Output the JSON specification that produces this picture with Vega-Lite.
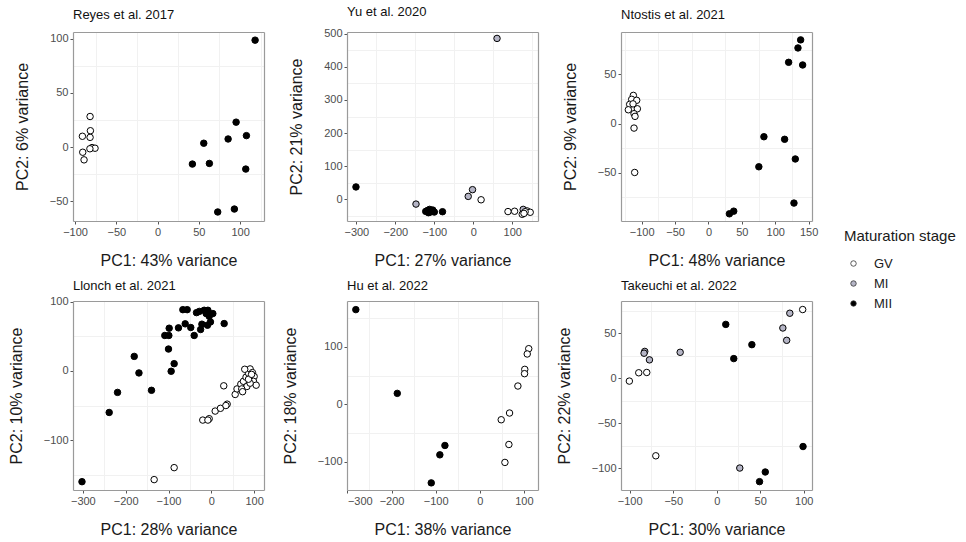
{
  "$schema": "https://vega.github.io/schema/vega-lite/v6.json",
  "padding": {"left": 8, "top": 5, "right": 0, "bottom": 0},
  "background": "white",
  "bounds": "flush",
  "columns": 3,
  "spacing": {"row": 80, "column": 83},
  "datasets": {
    "pca": [
      {"study": "Reyes et al. 2017", "stage": "GV", "pc1": -81.8, "pc2": 28.2},
      {"study": "Reyes et al. 2017", "stage": "GV", "pc1": -81.4, "pc2": 15.1},
      {"study": "Reyes et al. 2017", "stage": "GV", "pc1": -81.8, "pc2": 9},
      {"study": "Reyes et al. 2017", "stage": "GV", "pc1": -91.1, "pc2": 10},
      {"study": "Reyes et al. 2017", "stage": "GV", "pc1": -90.7, "pc2": -4.7},
      {"study": "Reyes et al. 2017", "stage": "GV", "pc1": -89.1, "pc2": -11.7},
      {"study": "Reyes et al. 2017", "stage": "GV", "pc1": -79.4, "pc2": -0.4},
      {"study": "Reyes et al. 2017", "stage": "GV", "pc1": -75.8, "pc2": -1},
      {"study": "Reyes et al. 2017", "stage": "GV", "pc1": -82, "pc2": -1.5},
      {"study": "Reyes et al. 2017", "stage": "MII", "pc1": 118.2, "pc2": 98.5},
      {"study": "Reyes et al. 2017", "stage": "MII", "pc1": 95.2, "pc2": 23},
      {"study": "Reyes et al. 2017", "stage": "MII", "pc1": 85.5, "pc2": 7.5},
      {"study": "Reyes et al. 2017", "stage": "MII", "pc1": 107.7, "pc2": 10.6},
      {"study": "Reyes et al. 2017", "stage": "MII", "pc1": 56, "pc2": 3.6},
      {"study": "Reyes et al. 2017", "stage": "MII", "pc1": 42.2, "pc2": -15.6},
      {"study": "Reyes et al. 2017", "stage": "MII", "pc1": 62.8, "pc2": -15},
      {"study": "Reyes et al. 2017", "stage": "MII", "pc1": 106.9, "pc2": -20.2},
      {"study": "Reyes et al. 2017", "stage": "MII", "pc1": 72.9, "pc2": -59.7},
      {"study": "Reyes et al. 2017", "stage": "MII", "pc1": 93.1, "pc2": -57},

      {"study": "Yu et al. 2020", "stage": "MII", "pc1": -301, "pc2": 37.7},
      {"study": "Yu et al. 2020", "stage": "MII", "pc1": -122, "pc2": -36},
      {"study": "Yu et al. 2020", "stage": "MII", "pc1": -117, "pc2": -33},
      {"study": "Yu et al. 2020", "stage": "MII", "pc1": -112, "pc2": -30},
      {"study": "Yu et al. 2020", "stage": "MII", "pc1": -108, "pc2": -36},
      {"study": "Yu et al. 2020", "stage": "MII", "pc1": -104, "pc2": -32},
      {"study": "Yu et al. 2020", "stage": "MII", "pc1": -100, "pc2": -38},
      {"study": "Yu et al. 2020", "stage": "MII", "pc1": -115, "pc2": -40},
      {"study": "Yu et al. 2020", "stage": "MII", "pc1": -110, "pc2": -38},
      {"study": "Yu et al. 2020", "stage": "MII", "pc1": -79, "pc2": -37},
      {"study": "Yu et al. 2020", "stage": "MI", "pc1": 60.9, "pc2": 485.7},
      {"study": "Yu et al. 2020", "stage": "MI", "pc1": -147, "pc2": -14},
      {"study": "Yu et al. 2020", "stage": "MI", "pc1": -13, "pc2": 9.2},
      {"study": "Yu et al. 2020", "stage": "MI", "pc1": -2, "pc2": 29.5},
      {"study": "Yu et al. 2020", "stage": "MI", "pc1": 128, "pc2": -30},
      {"study": "Yu et al. 2020", "stage": "GV", "pc1": 20, "pc2": -1},
      {"study": "Yu et al. 2020", "stage": "GV", "pc1": 89, "pc2": -36.6},
      {"study": "Yu et al. 2020", "stage": "GV", "pc1": 106, "pc2": -35.6},
      {"study": "Yu et al. 2020", "stage": "GV", "pc1": 125.5, "pc2": -44.8},
      {"study": "Yu et al. 2020", "stage": "GV", "pc1": 138, "pc2": -34.6},
      {"study": "Yu et al. 2020", "stage": "GV", "pc1": 146, "pc2": -38.7},
      {"study": "Yu et al. 2020", "stage": "GV", "pc1": 133, "pc2": -37},
      {"study": "Yu et al. 2020", "stage": "GV", "pc1": 130, "pc2": -42},

      {"study": "Ntostis et al. 2021", "stage": "GV", "pc1": -112.5, "pc2": 28.6},
      {"study": "Ntostis et al. 2021", "stage": "GV", "pc1": -115, "pc2": 24.6},
      {"study": "Ntostis et al. 2021", "stage": "GV", "pc1": -107.5, "pc2": 23.6},
      {"study": "Ntostis et al. 2021", "stage": "GV", "pc1": -118, "pc2": 19.5},
      {"study": "Ntostis et al. 2021", "stage": "GV", "pc1": -120, "pc2": 14},
      {"study": "Ntostis et al. 2021", "stage": "GV", "pc1": -106.5, "pc2": 15},
      {"study": "Ntostis et al. 2021", "stage": "GV", "pc1": -111.5, "pc2": 10},
      {"study": "Ntostis et al. 2021", "stage": "GV", "pc1": -110, "pc2": 7.3},
      {"study": "Ntostis et al. 2021", "stage": "GV", "pc1": -111.5, "pc2": -4.6},
      {"study": "Ntostis et al. 2021", "stage": "GV", "pc1": -110.5, "pc2": -49.7},
      {"study": "Ntostis et al. 2021", "stage": "GV", "pc1": -113, "pc2": 20},
      {"study": "Ntostis et al. 2021", "stage": "MII", "pc1": 138, "pc2": 85},
      {"study": "Ntostis et al. 2021", "stage": "MII", "pc1": 134, "pc2": 76.8},
      {"study": "Ntostis et al. 2021", "stage": "MII", "pc1": 120, "pc2": 62.2},
      {"study": "Ntostis et al. 2021", "stage": "MII", "pc1": 141, "pc2": 59.5},
      {"study": "Ntostis et al. 2021", "stage": "MII", "pc1": 83, "pc2": -13.4},
      {"study": "Ntostis et al. 2021", "stage": "MII", "pc1": 114, "pc2": -16},
      {"study": "Ntostis et al. 2021", "stage": "MII", "pc1": 130, "pc2": -36},
      {"study": "Ntostis et al. 2021", "stage": "MII", "pc1": 75.4, "pc2": -43.9},
      {"study": "Ntostis et al. 2021", "stage": "MII", "pc1": 128, "pc2": -80.8},
      {"study": "Ntostis et al. 2021", "stage": "MII", "pc1": 31.3, "pc2": -91.7},
      {"study": "Ntostis et al. 2021", "stage": "MII", "pc1": 37.8, "pc2": -89},

      {"study": "Llonch et al. 2021", "stage": "MII", "pc1": -302, "pc2": -160},
      {"study": "Llonch et al. 2021", "stage": "MII", "pc1": -238.5, "pc2": -60},
      {"study": "Llonch et al. 2021", "stage": "MII", "pc1": -219, "pc2": -31},
      {"study": "Llonch et al. 2021", "stage": "MII", "pc1": -180, "pc2": 21},
      {"study": "Llonch et al. 2021", "stage": "MII", "pc1": -169, "pc2": -2.9},
      {"study": "Llonch et al. 2021", "stage": "MII", "pc1": -139.7, "pc2": -28},
      {"study": "Llonch et al. 2021", "stage": "MII", "pc1": -108.6, "pc2": 51.2},
      {"study": "Llonch et al. 2021", "stage": "MII", "pc1": -99.2, "pc2": 51.2},
      {"study": "Llonch et al. 2021", "stage": "MII", "pc1": -98.4, "pc2": 61.7},
      {"study": "Llonch et al. 2021", "stage": "MII", "pc1": -100, "pc2": 31.6},
      {"study": "Llonch et al. 2021", "stage": "MII", "pc1": -93.8, "pc2": -0.5},
      {"study": "Llonch et al. 2021", "stage": "MII", "pc1": -86.8, "pc2": 10.5},
      {"study": "Llonch et al. 2021", "stage": "MII", "pc1": -76.7, "pc2": 62.2},
      {"study": "Llonch et al. 2021", "stage": "MII", "pc1": -66.5, "pc2": 88.5},
      {"study": "Llonch et al. 2021", "stage": "MII", "pc1": -56.4, "pc2": 88.5},
      {"study": "Llonch et al. 2021", "stage": "MII", "pc1": -61, "pc2": 68},
      {"study": "Llonch et al. 2021", "stage": "MII", "pc1": -48, "pc2": 62.7},
      {"study": "Llonch et al. 2021", "stage": "MII", "pc1": -40, "pc2": 51.2},
      {"study": "Llonch et al. 2021", "stage": "MII", "pc1": -34.6, "pc2": 84.2},
      {"study": "Llonch et al. 2021", "stage": "MII", "pc1": -25, "pc2": 59.8},
      {"study": "Llonch et al. 2021", "stage": "MII", "pc1": -22, "pc2": 67.5},
      {"study": "Llonch et al. 2021", "stage": "MII", "pc1": -16.7, "pc2": 87.6},
      {"study": "Llonch et al. 2021", "stage": "MII", "pc1": -12, "pc2": 82.8},
      {"study": "Llonch et al. 2021", "stage": "MII", "pc1": -8, "pc2": 87.6},
      {"study": "Llonch et al. 2021", "stage": "MII", "pc1": -5, "pc2": 79},
      {"study": "Llonch et al. 2021", "stage": "MII", "pc1": 3.5, "pc2": 82.8},
      {"study": "Llonch et al. 2021", "stage": "MII", "pc1": -9, "pc2": 66},
      {"study": "Llonch et al. 2021", "stage": "MII", "pc1": -2, "pc2": 70.8},
      {"study": "Llonch et al. 2021", "stage": "MII", "pc1": 30, "pc2": 68.4},
      {"study": "Llonch et al. 2021", "stage": "MII", "pc1": -28, "pc2": 86},
      {"study": "Llonch et al. 2021", "stage": "GV", "pc1": -133.5, "pc2": -157},
      {"study": "Llonch et al. 2021", "stage": "GV", "pc1": -86.8, "pc2": -139.7},
      {"study": "Llonch et al. 2021", "stage": "GV", "pc1": -20, "pc2": -71},
      {"study": "Llonch et al. 2021", "stage": "GV", "pc1": -5, "pc2": -69},
      {"study": "Llonch et al. 2021", "stage": "GV", "pc1": 9, "pc2": -58},
      {"study": "Llonch et al. 2021", "stage": "GV", "pc1": 21.4, "pc2": -54},
      {"study": "Llonch et al. 2021", "stage": "GV", "pc1": 37, "pc2": -48},
      {"study": "Llonch et al. 2021", "stage": "GV", "pc1": 29, "pc2": -21.5},
      {"study": "Llonch et al. 2021", "stage": "GV", "pc1": 55.7, "pc2": -34},
      {"study": "Llonch et al. 2021", "stage": "GV", "pc1": 60, "pc2": -26},
      {"study": "Llonch et al. 2021", "stage": "GV", "pc1": 68.9, "pc2": -19},
      {"study": "Llonch et al. 2021", "stage": "GV", "pc1": 75, "pc2": -15},
      {"study": "Llonch et al. 2021", "stage": "GV", "pc1": 81, "pc2": -9},
      {"study": "Llonch et al. 2021", "stage": "GV", "pc1": 86.8, "pc2": -3.3},
      {"study": "Llonch et al. 2021", "stage": "GV", "pc1": 90.6, "pc2": 2.9},
      {"study": "Llonch et al. 2021", "stage": "GV", "pc1": 96, "pc2": -2.4},
      {"study": "Llonch et al. 2021", "stage": "GV", "pc1": 100, "pc2": -8},
      {"study": "Llonch et al. 2021", "stage": "GV", "pc1": 98.4, "pc2": -15},
      {"study": "Llonch et al. 2021", "stage": "GV", "pc1": 104.7, "pc2": -20.6},
      {"study": "Llonch et al. 2021", "stage": "GV", "pc1": 83, "pc2": -22.5},
      {"study": "Llonch et al. 2021", "stage": "GV", "pc1": 71, "pc2": -26},
      {"study": "Llonch et al. 2021", "stage": "GV", "pc1": 90.6, "pc2": -17.7},
      {"study": "Llonch et al. 2021", "stage": "GV", "pc1": 78, "pc2": 2.4},
      {"study": "Llonch et al. 2021", "stage": "GV", "pc1": 86.8, "pc2": -12},
      {"study": "Llonch et al. 2021", "stage": "GV", "pc1": -8, "pc2": -71},
      {"study": "Llonch et al. 2021", "stage": "GV", "pc1": 34, "pc2": -50},
      {"study": "Llonch et al. 2021", "stage": "GV", "pc1": 73, "pc2": -30},
      {"study": "Llonch et al. 2021", "stage": "GV", "pc1": 94, "pc2": -5},

      {"study": "Hu et al. 2022", "stage": "MII", "pc1": -281, "pc2": 165},
      {"study": "Hu et al. 2022", "stage": "MII", "pc1": -187, "pc2": 19.2},
      {"study": "Hu et al. 2022", "stage": "MII", "pc1": -79, "pc2": -71.5},
      {"study": "Hu et al. 2022", "stage": "MII", "pc1": -90.5, "pc2": -87.8},
      {"study": "Hu et al. 2022", "stage": "MII", "pc1": -110, "pc2": -136.6},
      {"study": "Hu et al. 2022", "stage": "GV", "pc1": 111, "pc2": 97},
      {"study": "Hu et al. 2022", "stage": "GV", "pc1": 107.6, "pc2": 87.8},
      {"study": "Hu et al. 2022", "stage": "GV", "pc1": 102, "pc2": 61},
      {"study": "Hu et al. 2022", "stage": "GV", "pc1": 101.5, "pc2": 53.5},
      {"study": "Hu et al. 2022", "stage": "GV", "pc1": 86.4, "pc2": 32},
      {"study": "Hu et al. 2022", "stage": "GV", "pc1": 67.5, "pc2": -15},
      {"study": "Hu et al. 2022", "stage": "GV", "pc1": 48.6, "pc2": -26.7},
      {"study": "Hu et al. 2022", "stage": "GV", "pc1": 66, "pc2": -69.8},
      {"study": "Hu et al. 2022", "stage": "GV", "pc1": 57, "pc2": -101},

      {"study": "Takeuchi et al. 2022", "stage": "GV", "pc1": -100.4, "pc2": -3},
      {"study": "Takeuchi et al. 2022", "stage": "GV", "pc1": -89.6, "pc2": 6.25},
      {"study": "Takeuchi et al. 2022", "stage": "GV", "pc1": -80.4, "pc2": 6.6},
      {"study": "Takeuchi et al. 2022", "stage": "GV", "pc1": -70, "pc2": -86},
      {"study": "Takeuchi et al. 2022", "stage": "GV", "pc1": 98.8, "pc2": 76.5},
      {"study": "Takeuchi et al. 2022", "stage": "MI", "pc1": -82.7, "pc2": 30},
      {"study": "Takeuchi et al. 2022", "stage": "MI", "pc1": -83.5, "pc2": 28},
      {"study": "Takeuchi et al. 2022", "stage": "MI", "pc1": -77.3, "pc2": 20.6},
      {"study": "Takeuchi et al. 2022", "stage": "MI", "pc1": -42, "pc2": 29},
      {"study": "Takeuchi et al. 2022", "stage": "MI", "pc1": 76, "pc2": 56},
      {"study": "Takeuchi et al. 2022", "stage": "MI", "pc1": 84, "pc2": 72.4},
      {"study": "Takeuchi et al. 2022", "stage": "MI", "pc1": 80.4, "pc2": 42.3},
      {"study": "Takeuchi et al. 2022", "stage": "MI", "pc1": 26.5, "pc2": -99.6},
      {"study": "Takeuchi et al. 2022", "stage": "MII", "pc1": 10.4, "pc2": 60},
      {"study": "Takeuchi et al. 2022", "stage": "MII", "pc1": 19.6, "pc2": 22},
      {"study": "Takeuchi et al. 2022", "stage": "MII", "pc1": 40.4, "pc2": 37.5},
      {"study": "Takeuchi et al. 2022", "stage": "MII", "pc1": 49.2, "pc2": -114.7},
      {"study": "Takeuchi et al. 2022", "stage": "MII", "pc1": 55.8, "pc2": -104},
      {"study": "Takeuchi et al. 2022", "stage": "MII", "pc1": 99.2, "pc2": -75.7}
    ]
  },
  "concat": [
    {
      "title": {"text": "Reyes et al. 2017", "offset": 10},
      "width": 191, "height": 189,
      "data": {"name": "pca"},
      "transform": [{"filter": "datum.study === 'Reyes et al. 2017'"}],
      "layer": [
        {"mark": {"type": "point", "opacity": 0},
         "encoding": {
           "x": {"field": "pc1", "type": "quantitative", "scale": {"domain": [-102.5, 129], "nice": false, "zero": false},
                 "axis": {"orient": "top", "values": [-75, -25, 25, 75, 125], "grid": true, "gridColor": "#f1f1f1", "labels": false, "ticks": false, "domain": true, "title": null}},
           "y": {"field": "pc2", "type": "quantitative", "scale": {"domain": [-68, 106], "nice": false, "zero": false},
                 "axis": {"orient": "right", "values": [-25, 25, 75], "grid": true, "gridColor": "#f1f1f1", "labels": false, "ticks": false, "domain": true, "title": null}}
         }},
        {"mark": {"type": "point", "shape": "circle", "filled": true, "stroke": "black", "strokeWidth": 1, "opacity": 1, "size": 42},
         "encoding": {
           "x": {"field": "pc1", "type": "quantitative", "axis": {"values": [-100, -50, 0, 50, 100], "title": "PC1: 43% variance"}},
           "y": {"field": "pc2", "type": "quantitative", "axis": {"values": [-50, 0, 50, 100], "title": "PC2: 6% variance"}},
           "fill": {"field": "stage", "type": "nominal", "title": "Maturation stage", "scale": {"domain": ["GV", "MI", "MII"], "range": ["#ffffff", "#b5b5c6", "#000000"]}}
         }}
      ],
      "resolve": {"axis": {"x": "independent", "y": "independent"}}
    },
    {
      "title": {"text": "Yu et al. 2020", "offset": 9},
      "width": 191, "height": 189,
      "data": {"name": "pca"},
      "transform": [{"filter": "datum.study === 'Yu et al. 2020'"}],
      "layer": [
        {"mark": {"type": "point", "opacity": 0},
         "encoding": {
           "x": {"field": "pc1", "type": "quantitative", "scale": {"domain": [-324, 166], "nice": false, "zero": false},
                 "axis": {"orient": "top", "values": [-250, -150, -50, 50, 150], "grid": true, "gridColor": "#f1f1f1", "labels": false, "ticks": false, "domain": true, "title": null}},
           "y": {"field": "pc2", "type": "quantitative", "scale": {"domain": [-65, 505], "nice": false, "zero": false},
                 "axis": {"orient": "right", "values": [-50, 50, 150, 250, 350, 450], "grid": true, "gridColor": "#f1f1f1", "labels": false, "ticks": false, "domain": true, "title": null}}
         }},
        {"mark": {"type": "point", "shape": "circle", "filled": true, "stroke": "black", "strokeWidth": 1, "opacity": 1, "size": 42},
         "encoding": {
           "x": {"field": "pc1", "type": "quantitative", "axis": {"values": [-300, -200, -100, 0, 100], "title": "PC1: 27% variance"}},
           "y": {"field": "pc2", "type": "quantitative", "axis": {"values": [0, 100, 200, 300, 400, 500], "title": "PC2: 21% variance"}},
           "fill": {"field": "stage", "type": "nominal", "title": "Maturation stage", "scale": {"domain": ["GV", "MI", "MII"], "range": ["#ffffff", "#b5b5c6", "#000000"]}}
         }}
      ],
      "resolve": {"axis": {"x": "independent", "y": "independent"}}
    },
    {
      "title": {"text": "Ntostis et al. 2021", "offset": 10},
      "width": 191, "height": 189,
      "data": {"name": "pca"},
      "transform": [{"filter": "datum.study === 'Ntostis et al. 2021'"}],
      "layer": [
        {"mark": {"type": "point", "opacity": 0},
         "encoding": {
           "x": {"field": "pc1", "type": "quantitative", "scale": {"domain": [-131, 155], "nice": false, "zero": false},
                 "axis": {"orient": "top", "values": [-125, -75, -25, 25, 75, 125], "grid": true, "gridColor": "#f1f1f1", "labels": false, "ticks": false, "domain": true, "title": null}},
           "y": {"field": "pc2", "type": "quantitative", "scale": {"domain": [-99, 93], "nice": false, "zero": false},
                 "axis": {"orient": "right", "values": [-75, -25, 25, 75], "grid": true, "gridColor": "#f1f1f1", "labels": false, "ticks": false, "domain": true, "title": null}}
         }},
        {"mark": {"type": "point", "shape": "circle", "filled": true, "stroke": "black", "strokeWidth": 1, "opacity": 1, "size": 42},
         "encoding": {
           "x": {"field": "pc1", "type": "quantitative", "axis": {"values": [-100, -50, 0, 50, 100, 150], "title": "PC1: 48% variance"}},
           "y": {"field": "pc2", "type": "quantitative", "axis": {"values": [-50, 0, 50], "title": "PC2: 9% variance"}},
           "fill": {"field": "stage", "type": "nominal", "title": "Maturation stage", "scale": {"domain": ["GV", "MI", "MII"], "range": ["#ffffff", "#b5b5c6", "#000000"]}}
         }}
      ],
      "resolve": {"axis": {"x": "independent", "y": "independent"}}
    },
    {
      "title": {"text": "Llonch et al. 2021", "offset": 3},
      "width": 191, "height": 189,
      "data": {"name": "pca"},
      "transform": [{"filter": "datum.study === 'Llonch et al. 2021'"}],
      "layer": [
        {"mark": {"type": "point", "opacity": 0},
         "encoding": {
           "x": {"field": "pc1", "type": "quantitative", "scale": {"domain": [-323, 123], "nice": false, "zero": false},
                 "axis": {"orient": "top", "values": [-250, -150, -50, 50], "grid": true, "gridColor": "#f1f1f1", "labels": false, "ticks": false, "domain": true, "title": null}},
           "y": {"field": "pc2", "type": "quantitative", "scale": {"domain": [-172, 101], "nice": false, "zero": false},
                 "axis": {"orient": "right", "values": [-150, -50, 50], "grid": true, "gridColor": "#f1f1f1", "labels": false, "ticks": false, "domain": true, "title": null}}
         }},
        {"mark": {"type": "point", "shape": "circle", "filled": true, "stroke": "black", "strokeWidth": 1, "opacity": 1, "size": 42},
         "encoding": {
           "x": {"field": "pc1", "type": "quantitative", "axis": {"values": [-300, -200, -100, 0, 100], "title": "PC1: 28% variance"}},
           "y": {"field": "pc2", "type": "quantitative", "axis": {"values": [-100, 0, 100], "title": "PC2: 10% variance"}},
           "fill": {"field": "stage", "type": "nominal", "title": "Maturation stage", "scale": {"domain": ["GV", "MI", "MII"], "range": ["#ffffff", "#b5b5c6", "#000000"]}}
         }}
      ],
      "resolve": {"axis": {"x": "independent", "y": "independent"}}
    },
    {
      "title": {"text": "Hu et al. 2022", "offset": 8},
      "width": 191, "height": 189,
      "data": {"name": "pca"},
      "transform": [{"filter": "datum.study === 'Hu et al. 2022'"}],
      "layer": [
        {"mark": {"type": "point", "opacity": 0},
         "encoding": {
           "x": {"field": "pc1", "type": "quantitative", "scale": {"domain": [-301, 132], "nice": false, "zero": false},
                 "axis": {"orient": "top", "values": [-250, -150, -50, 50], "grid": true, "gridColor": "#f1f1f1", "labels": false, "ticks": false, "domain": true, "title": null}},
           "y": {"field": "pc2", "type": "quantitative", "scale": {"domain": [-149, 180], "nice": false, "zero": false},
                 "axis": {"orient": "right", "values": [-150, -50, 50, 150], "grid": true, "gridColor": "#f1f1f1", "labels": false, "ticks": false, "domain": true, "title": null}}
         }},
        {"mark": {"type": "point", "shape": "circle", "filled": true, "stroke": "black", "strokeWidth": 1, "opacity": 1, "size": 42},
         "encoding": {
           "x": {"field": "pc1", "type": "quantitative", "axis": {"values": [-300, -200, -100, 0, 100], "title": "PC1: 38% variance"}},
           "y": {"field": "pc2", "type": "quantitative", "axis": {"values": [-100, 0, 100], "title": "PC2: 18% variance"}},
           "fill": {"field": "stage", "type": "nominal", "title": "Maturation stage", "scale": {"domain": ["GV", "MI", "MII"], "range": ["#ffffff", "#b5b5c6", "#000000"]}}
         }}
      ],
      "resolve": {"axis": {"x": "independent", "y": "independent"}}
    },
    {
      "title": {"text": "Takeuchi et al. 2022", "offset": 8},
      "width": 191, "height": 189,
      "data": {"name": "pca"},
      "transform": [{"filter": "datum.study === 'Takeuchi et al. 2022'"}],
      "layer": [
        {"mark": {"type": "point", "opacity": 0},
         "encoding": {
           "x": {"field": "pc1", "type": "quantitative", "scale": {"domain": [-110, 109.5], "nice": false, "zero": false},
                 "axis": {"orient": "top", "values": [-75, -25, 25, 75], "grid": true, "gridColor": "#f1f1f1", "labels": false, "ticks": false, "domain": true, "title": null}},
           "y": {"field": "pc2", "type": "quantitative", "scale": {"domain": [-124, 86], "nice": false, "zero": false},
                 "axis": {"orient": "right", "values": [-75, -25, 25, 75], "grid": true, "gridColor": "#f1f1f1", "labels": false, "ticks": false, "domain": true, "title": null}}
         }},
        {"mark": {"type": "point", "shape": "circle", "filled": true, "stroke": "black", "strokeWidth": 1, "opacity": 1, "size": 42},
         "encoding": {
           "x": {"field": "pc1", "type": "quantitative", "axis": {"values": [-100, -50, 0, 50, 100], "title": "PC1: 30% variance"}},
           "y": {"field": "pc2", "type": "quantitative", "axis": {"values": [-100, -50, 0, 50], "title": "PC2: 22% variance"}},
           "fill": {"field": "stage", "type": "nominal", "title": "Maturation stage", "scale": {"domain": ["GV", "MI", "MII"], "range": ["#ffffff", "#b5b5c6", "#000000"]}}
         }}
      ],
      "resolve": {"axis": {"x": "independent", "y": "independent"}}
    }
  ],
  "config": {
    "font": "Liberation Sans",
    "view": {"stroke": null},
    "title": {"anchor": "start", "frame": "group", "fontSize": 13, "fontWeight": "normal", "color": "#111111"},
    "axis": {"labelFontSize": 11, "labelColor": "#4d4d4d", "tickColor": "#555555", "tickSize": 3, "labelPadding": 2,
             "titleFontSize": 16, "titleFontWeight": "normal", "titleColor": "#1a1a1a",
             "gridColor": "#e2e2e2", "gridWidth": 1, "domain": true, "domainColor": "#9a9a9a", "domainWidth": 1.2},
    "axisX": {"titlePadding": 15},
    "axisY": {"titlePadding": 19},
    "legend": {"orient": "none", "legendX": 771, "legendY": 197, "titleFontSize": 15, "titleFontWeight": "normal", "titleColor": "#1a1a1a",
               "labelFontSize": 13, "labelColor": "#1a1a1a", "symbolSize": 30, "symbolStrokeColor": "#333333", "symbolStrokeWidth": 0.8,
               "symbolType": "circle", "rowPadding": 6, "labelOffset": 14, "symbolOffset": 3, "titlePadding": 13}
  }
}
